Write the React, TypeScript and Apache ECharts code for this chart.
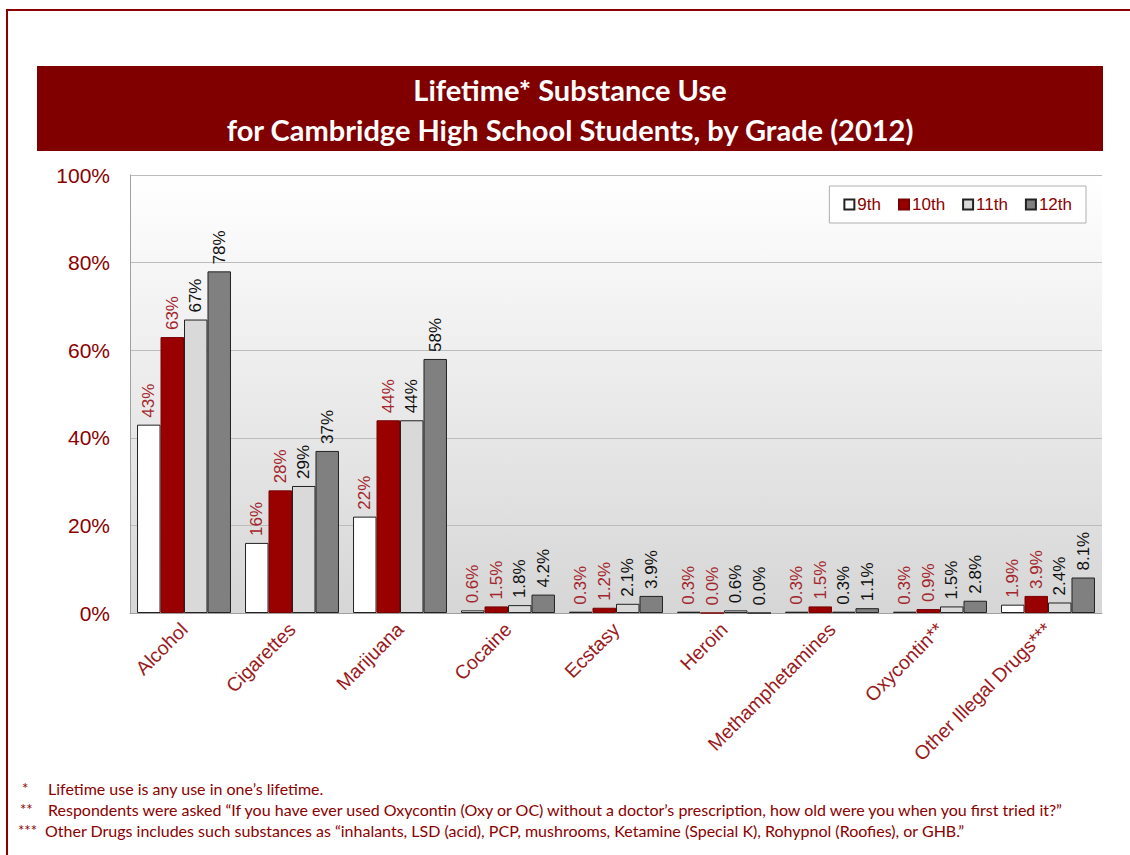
import React, { useEffect, useRef } from "react";
import * as echarts from "echarts";

const categories = [
  "Alcohol",
  "Cigarettes",
  "Marijuana",
  "Cocaine",
  "Ecstasy",
  "Heroin",
  "Methamphetamines",
  "Oxycontin**",
  "Other Illegal Drugs***",
];
const grade9 = [43, 16, 22, 0.6, 0.3, 0.3, 0.3, 0.3, 1.9];
const grade10 = [63, 28, 44, 1.5, 1.2, 0.0, 1.5, 0.9, 3.9];
const grade11 = [67, 29, 44, 1.8, 2.1, 0.6, 0.3, 1.5, 2.4];
const grade12 = [78, 37, 58, 4.2, 3.9, 0.0, 1.1, 2.8, 8.1];
const seriesNames = ["9th", "10th", "11th", "12th"];
const yTicks = [0, 20, 40, 60, 80, 100];

const titleLines = [
  "Lifetime* Substance Use",
  "for Cambridge High School Students, by Grade (2012)",
];
const footMarks = ["*", "**", "***"];
const footTexts = [
  "Lifetime use is any use in one\u2019s lifetime.",
  "Respondents were asked \u201cIf you have ever used Oxycontin (Oxy or OC) without a doctor\u2019s prescription, how old were you when you first tried it?\u201d",
  "Other Drugs includes such substances as \u201cinhalants, LSD (acid), PCP, mushrooms, Ketamine (Special K), Rohypnol (Roofies), or GHB.\u201d",
];

const DARK_RED = "#8b0000";
const LABEL_RED = "#a3262c";

export default function App() {
  const ref = useRef<HTMLDivElement>(null);
  useEffect(() => {
    if (!ref.current) return;
    const chart = echarts.init(ref.current, null, { renderer: "svg" });
    const fmt = (p: any) =>
      p.dataIndex < 3 ? Math.round(p.value) + "%" : Number(p.value).toFixed(1) + "%";
    const mk = (name: string, data: number[], fill: string, border: string, labelColor: string) => ({
      name,
      type: "bar",
      data,
      barGap: "0%",
      barCategoryGap: "13%",
      itemStyle: { color: fill, borderColor: border, borderWidth: 1 },
      label: {
        show: true,
        position: "top",
        rotate: 90,
        align: "left",
        verticalAlign: "middle",
        distance: 7,
        fontFamily: "Liberation Sans, Arial",
        fontSize: 17,
        color: labelColor,
        formatter: fmt,
      },
    });
    chart.setOption({
      animation: false,
      backgroundColor: "#ffffff",
      grid: {
        left: 130,
        right: 28,
        top: 175,
        bottom: 242,
        show: true,
        borderWidth: 0,
        backgroundColor: new echarts.graphic.LinearGradient(0, 0, 0, 1, [
          { offset: 0, color: "#ffffff" },
          { offset: 1, color: "#d6d6d6" },
        ]),
      },
      legend: {
        data: seriesNames,
        right: 44,
        top: 186,
        orient: "horizontal",
        backgroundColor: "#ffffff",
        borderColor: "#b0b0b0",
        borderWidth: 1,
        padding: [10, 14, 10, 14],
        itemWidth: 10,
        itemHeight: 10,
        itemGap: 17,
        icon: "rect",
        textStyle: {
          fontFamily: "Liberation Sans, Arial",
          fontSize: 17,
          color: DARK_RED,
          padding: [0, 0, 0, -2],
        },
      },
      xAxis: {
        type: "category",
        data: categories,
        axisLine: { show: true, lineStyle: { color: "#a0a0a0" } },
        axisTick: { show: false },
        axisLabel: {
          rotate: 45,
          interval: 0,
          margin: 13,
          fontFamily: "Liberation Sans, Arial",
          fontSize: 19.5,
          color: "#9a1b22",
        },
      },
      yAxis: {
        type: "value",
        min: 0,
        max: 100,
        interval: 20,
        axisLine: { show: true, lineStyle: { color: "#a0a0a0" } },
        axisTick: { show: false },
        splitLine: { lineStyle: { color: "#bcbcbc", width: 1 } },
        axisLabel: {
          margin: 20,
          fontFamily: "Liberation Sans, Arial",
          fontSize: 21,
          color: DARK_RED,
          formatter: (v: number) => (yTicks.includes(v) ? v + "%" : ""),
        },
      },
      series: [
        mk(seriesNames[0], grade9, "#ffffff", "#222222", LABEL_RED),
        mk(seriesNames[1], grade10, "#990000", "#7a0000", LABEL_RED),
        mk(seriesNames[2], grade11, "#d9d9d9", "#222222", "#111111"),
        mk(seriesNames[3], grade12, "#808080", "#222222", "#111111"),
      ],
      graphic: [
        {
          type: "polyline",
          shape: { points: [[7, 855], [7, 10], [1130, 10]] },
          style: { stroke: DARK_RED, lineWidth: 2, fill: null },
        },
        {
          type: "rect",
          shape: { x: 37, y: 66, width: 1066, height: 85 },
          style: { fill: "#800000" },
        },
        {
          type: "text",
          x: 570,
          y: 89,
          style: {
            text: titleLines[0],
            fill: "#ffffff",
            font: "bold 29px Lato, 'Open Sans', sans-serif",
            align: "center",
            verticalAlign: "middle",
          },
        },
        {
          type: "text",
          x: 570,
          y: 129,
          style: {
            text: titleLines[1],
            fill: "#ffffff",
            font: "bold 29px Lato, 'Open Sans', sans-serif",
            align: "center",
            verticalAlign: "middle",
          },
        },
        ...footMarks.map((m, i) => ({
          type: "text",
          x: i === 2 ? 18 : i === 1 ? 20 : 22,
          y: 788 + i * 21,
          style: {
            text: m,
            fill: DARK_RED,
            font: "15px Lato, 'Open Sans', sans-serif",
            verticalAlign: "middle",
          },
        })),
        ...footTexts.map((t, i) => ({
          type: "text",
          x: i === 2 ? 45 : 48,
          y: 788 + i * 21,
          style: {
            text: t,
            fill: DARK_RED,
            font: "16px Lato, 'Open Sans', sans-serif",
            verticalAlign: "middle",
          },
        })),
      ],
    });
    return () => chart.dispose();
  }, []);
  return (
    <div
      ref={ref}
      style={{ position: "absolute", left: 0, top: 0, width: 1130, height: 855 }}
    />
  );
}
